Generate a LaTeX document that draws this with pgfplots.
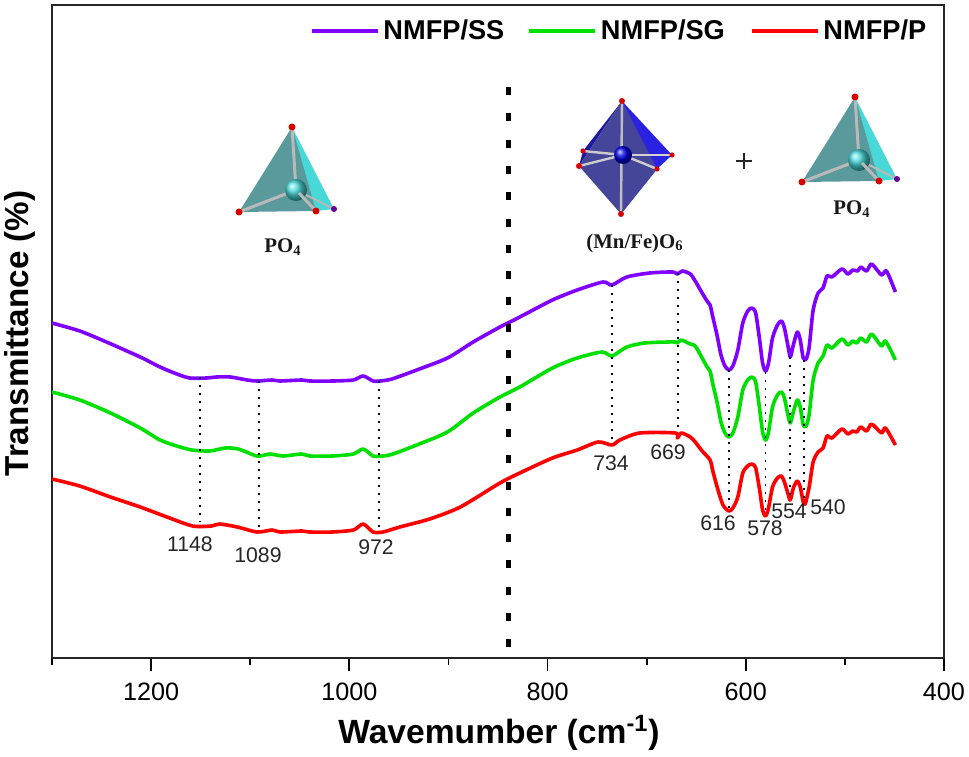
\documentclass[border=0pt]{standalone}
\usepackage{fontspec}
\usepackage{pgfplots}
\usepackage{pgfplotstable}
\pgfplotsset{compat=1.18}
\setmainfont{Liberation Sans}
\newfontfamily\serifb{Liberation Serif}[Ligatures=TeX]

\definecolor{cSS}{HTML}{8000FF}
\definecolor{cSG}{HTML}{00E000}
\definecolor{cP}{HTML}{FF0000}
\definecolor{tetfront}{HTML}{5A9A9C}
\definecolor{tetback}{HTML}{48D8D8}
\definecolor{octfront}{HTML}{45459A}
\definecolor{octback}{HTML}{2A22E0}

\pgfplotstableread{
w h
1300 335
1272 327
1245 316
1211 301
1191 291
1174 284
1161 280
1144 280
1134 281
1120 281
1103 278
1093 277
1078 278
1070 277
1048 278
1040 277
1016 277
996 278
986 282
976 277
969 277
957 279
932 288
901 300
875 316
848 331
828 341
795 358
770 368
744 376
735 373
720 381
697 385
674 386
669 384
664 387
656 384
651 377
644 365
639 357
636 353
633 340
629 323
625 303
621 292
617 288
613 292
608 308
603 335
598 347
594 350
590 345
586 318
583 295
580 287
577 295
573 320
568 333
564 337
561 330
557 310
555 301
552 313
548 326
545 318
542 300
539 299
536 311
532 348
527 365
522 370
518 382
513 381
503 389
497 384
492 388
487 387
484 391
478 387
473 394
463 383
458 387
449 366
}\dataSS

\pgfplotstableread{
w h
1300 266
1272 258
1241 245
1211 230
1191 218
1174 212
1159 208
1141 207
1125 210
1112 209
1093 202
1080 204
1067 202
1048 204
1040 202
1017 202
996 204
986 209
976 202
966 202
956 204
932 213
901 226
875 245
848 261
828 271
795 290
770 300
745 306
735 302
720 311
702 315
679 316
671 316
669 315
665 318
656 314
651 312
644 300
639 291
636 287
633 273
629 256
625 236
621 225
617 221
613 225
608 241
603 268
598 278
594 281
590 276
586 249
583 226
580 218
577 226
573 251
568 263
564 266
561 260
557 241
555 235
552 246
548 258
545 251
542 233
539 232
536 244
532 278
527 295
522 302
518 313
513 310
503 319
497 313
492 317
488 315
484 320
478 316
473 324
463 312
459 317
449 298
}\dataSG

\pgfplotstableread{
w h
1300 179
1272 172
1241 161
1211 151
1184 141
1158 132
1139 132
1131 134
1113 131
1093 126
1078 128
1070 126
1048 127
1040 126
1017 126
996 128
986 134
976 126
966 126
949 131
919 139
888 151
848 175
828 185
795 200
770 208
749 216
735 213
727 218
707 225
671 225
669 220
665 225
656 221
651 216
644 207
636 198
633 186
628 168
623 153
617 147
613 150
608 161
603 185
598 192
594 194
590 190
586 168
583 148
580 142
577 150
573 171
568 180
564 182
561 176
557 163
555 158
552 170
548 177
545 171
542 156
540 154
536 171
532 196
527 206
522 210
518 222
513 220
503 229
497 224
492 227
488 226
484 231
478 227
473 234
463 225
459 230
449 213
}\dataP

% tetrahedron, local coordinates around the central atom
\newcommand{\tetra}[2]{%
\begin{scope}[shift={(#1,#2)}]
  \fill[tetback] (-4,-63) -- (38,19) -- (20,21) -- (6,12) -- cycle;
  \fill[tetfront] (-4,-63) -- (-57,22) -- (20,21) -- (14,0) -- cycle;
  \draw[gray!55,line width=1.5pt] (-4,-63) -- (0,0);
  \draw[gray!55,line width=1.5pt] (-57,22) -- (0,0);
  \draw[gray!55,line width=1pt] (38,19) -- (0,0);
  \shade[ball color=tetback,shading=ball] (0,0) circle (11);
  \draw[gray!55,line width=1.5pt] (20,21) -- (3,3);
  \fill[red!85!black] (-4,-63) circle (3.5) (-57,22) circle (3.5) (20,21) circle (3.5);
  \fill[blue!60!red] (38,19) circle (3);
\end{scope}}

\begin{document}
\begin{tikzpicture}
\begin{axis}[
  name=ax, at={(0,0)}, anchor=south west,
  scale only axis, width=446pt, height=326.5pt,
  x dir=reverse,
  xmin=400, xmax=1300, ymin=0, ymax=653,
  xtick={400,600,800,1000,1200},
  minor xtick={500,700,900,1100,1300},
  ytick=\empty,
  xtick pos=bottom, tick align=outside,
  major tick length=6.5pt, minor tick length=3.5pt,
  every tick/.style={black,line width=.9pt},
  axis line style={line width=1.2pt,black!85},
  /pgf/number format/assume math mode=true,
  /pgf/number format/1000 sep={},
  tick label style={font=\fontsize{12.6}{14}\selectfont,yshift=-2.5pt},
  xlabel={\textbf{Wavemumber (cm\textsuperscript{-1})}},
  xlabel style={font=\fontsize{16.8}{18}\selectfont,at={(axis description cs:0.5,0)},anchor=center,yshift=-37.5pt,xshift=0.5pt},
  ylabel={\textbf{Transmittance (\%)}},
  ylabel style={font=\fontsize{16.6}{18}\selectfont,at={(axis description cs:0,0.497)},anchor=center,yshift=16pt},
  legend columns=3,
  legend style={draw=none,fill=none,at={(axis description cs:0.9846,0.960)},anchor=east,
    font=\bfseries\fontsize{13.6}{15}\selectfont,inner sep=0pt,outer sep=0pt,
    nodes={inner sep=2pt},
    /tikz/column 2/.style={column sep=9.5pt},/tikz/column 4/.style={column sep=10.5pt}},
  legend image code/.code={\draw[#1] (0pt,0pt) -- (33pt,0pt);},
  every axis plot/.append style={line width=1.8pt,line join=round,smooth,tension=0.45},
]
\addplot[cSS] table[x=w,y=h] {\dataSS};
\addlegendentry{NMFP/SS}
\addplot[cSG] table[x=w,y=h] {\dataSG};
\addlegendentry{NMFP/SG}
\addplot[cP] table[x=w,y=h] {\dataP};
\addlegendentry{NMFP/P}

% peak guide lines
\pgfplotsset{guide/.style={forget plot,sharp plot,line width=.9pt,black!80!blue,dash pattern=on .9pt off 3.1pt}}
\addplot[guide] coordinates {(1151,281) (1151,136)};
\addplot[guide] coordinates {(1091,277) (1091,131)};
\addplot[guide] coordinates {(970,277) (970,131)};
\addplot[guide] coordinates {(735,373) (735,215)};
\addplot[guide] coordinates {(668,385) (668,225)};
\addplot[guide] coordinates {(617,288) (617,150)};
\addplot[guide] coordinates {(580,286) (580,143)};
\addplot[guide] coordinates {(555,301) (555,160)};
\addplot[guide] coordinates {(541,298) (541,155)};

% divider
\addplot[forget plot,sharp plot,black,line width=2.5pt,dash pattern=on 4pt off 9.15pt] coordinates {(839,571) (839,4)};
\end{axis}

% annotations in picture pixels
\begin{scope}[x=0.5pt,y=-0.5pt,shift={(-52,-658)}]
  \begin{scope}[every node/.style={font=\fontsize{10.6}{12}\selectfont,inner sep=0pt,black!85}]
    \node at (190,544) {1148};
    \node at (258,555) {1089};
    \node at (376,547) {972};
    \node at (611,463) {734};
    \node at (668,452) {669};
    \node at (718,523) {616};
    \node at (765,528) {578};
    \node at (789,511) {554};
    \node at (828,507) {540};
  \end{scope}

  \tetra{296}{190}
  \tetra{859}{160}

  % octahedron
  \fill[octback] (622,101) -- (672,155) -- (657,169) -- (621,214) -- cycle;
  \fill[octback!70!black] (622,101) -- (583,151) -- (579,166) -- cycle;
  \fill[octfront] (622,101) -- (579,166) -- (621,214) -- (657,169) -- cycle;
  \draw[gray!50,line width=1.2pt] (622,101) -- (621,214);
  \draw[gray!40,line width=1.2pt] (579,166) -- (623,155) (583,151) -- (623,155) (657,169) -- (623,155);
  \draw[gray!35,line width=1pt] (672,155) -- (623,155);
  \shade[ball color=blue!90!black] (623,155) circle (9);
  \fill[red!85!black] (622,101) circle (3) (621,214) circle (3) (579,166) circle (3)
    (583,151) circle (2.6) (672,155) circle (2.6) (657,169) circle (2.6);

  \begin{scope}[every node/.style={font=\serifb\bfseries\fontsize{10.4}{12}\selectfont,inner sep=0pt,black!90}]
    \node at (283,247) {PO\textsubscript{4}};
    \node at (852,209) {PO\textsubscript{4}};
    \node at (635,243) {(Mn/Fe)O\textsubscript{6}};
  \end{scope}
  \draw[black!85,line width=1.1pt] (736,161) -- (752,161) (744,153) -- (744,169);

  % page frame: same size as the reference
  \pgfresetboundingbox
  \path[use as bounding box] (0,0) rectangle (969,756);
\end{scope}
\end{tikzpicture}
\end{document}
